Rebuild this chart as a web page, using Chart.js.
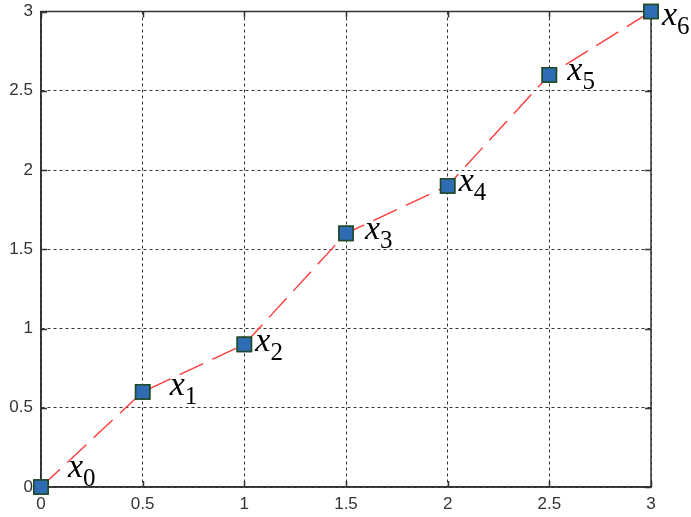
<!DOCTYPE html>
<html>
<head>
<meta charset="utf-8">
<script src="https://cdn.jsdelivr.net/npm/chart.js@4.4.1/dist/chart.umd.min.js"></script>
<style>
    html, body { margin: 0; padding: 0; background: #fff; }
    #wrap { width: 691px; height: 517px; }
</style>
</head>
<body>
<div id="wrap"><canvas id="chart" width="691" height="517"></canvas></div>
<script>
// values
const xValues = [0, 0.5, 1, 1.5, 2, 2.5, 3];
const yValues = [0, 0.6, 0.9, 1.6, 1.9, 2.6, 3];
const pointSubs = ['0', '1', '2', '3', '4', '5', '6'];
const tickValues = [0, 0.5, 1, 1.5, 2, 2.5, 3];
const tickLabels = ['0', '0.5', '1', '1.5', '2', '2.5', '3'];

// where each x_i label sits relative to its marker (px)
const labelOffsets = [[27, -10], [27, 3], [11, 7], [19, 6], [11, 5], [18, 5], [11, 13]];
const serif = "'Liberation Serif', 'Times New Roman', Times, serif";

let fmtTick = function(v) {
    let i = tickValues.indexOf(v);
    return i >= 0 ? tickLabels[i] : '';
};

let frame = {
    id: 'frame',
    afterDatasetsDraw(chart) {
        let ctx = chart.ctx, a = chart.chartArea;
        let xs = chart.scales.x, ys = chart.scales.y;
        ctx.save();
        ctx.strokeStyle = '#333';
        ctx.lineWidth = 1.5;
        ctx.setLineDash([]);
        ctx.beginPath();
        // inward tick marks on all four sides
        tickValues.forEach((v) => {
            let px = Math.round(xs.getPixelForValue(v)) + 0.5;
            ctx.moveTo(px, a.bottom); ctx.lineTo(px, a.bottom - 6);
            ctx.moveTo(px, a.top); ctx.lineTo(px, a.top + 6);
            let py = Math.round(ys.getPixelForValue(v)) + 0.5;
            ctx.moveTo(a.left, py); ctx.lineTo(a.left + 6, py);
            ctx.moveTo(a.right, py); ctx.lineTo(a.right - 6, py);
        });
        ctx.stroke();
        ctx.strokeRect(a.left, a.top, a.right - a.left, a.bottom - a.top);
        ctx.restore();
    },
    afterDraw(chart) {
        // redraw markers above the frame so edge markers are not crossed
        let meta = chart.getDatasetMeta(0);
        let ctx = chart.ctx;
        ctx.save();
        meta.data.forEach((pt) => pt.draw(ctx, undefined));
        ctx.restore();

        // x_i labels
        let xs = chart.scales.x, ys = chart.scales.y;
        ctx.save();
        ctx.fillStyle = '#000';
        ctx.textBaseline = 'alphabetic';
        ctx.textAlign = 'left';
        xValues.forEach((xv, i) => {
            let px = xs.getPixelForValue(xv) + labelOffsets[i][0];
            let py = ys.getPixelForValue(yValues[i]) + labelOffsets[i][1];
            ctx.font = 'italic 34px ' + serif;
            ctx.fillText('x', px, py);
            let w = ctx.measureText('x').width;
            ctx.font = '25px ' + serif;
            ctx.fillText(pointSubs[i], px + w, py + 9);
        });
        ctx.restore();
    }
};

let ctx = document.getElementById('chart').getContext('2d');
let chart = new Chart(ctx, {
    type: 'line',
    data: {
        datasets: [{
            data: xValues.map((x, i) => ({ x: x, y: yValues[i] })),
            borderColor: '#ff3a3a',
            borderWidth: 1.4,
            borderDash: [26, 10],
            fill: false,
            tension: 0,
            pointStyle: 'rect',
            pointRadius: 10,
            pointHoverRadius: 10,
            pointBackgroundColor: '#2f6cb3',
            pointBorderColor: '#1e4a28',
            pointBorderWidth: 1.5,
            clip: false,
        }]
    },
    plugins: [frame],
    options: {
        responsive: false,
        animation: false,
        events: [],
        layout: {
            padding: { top: 7, right: 40, left: 0, bottom: 0 }
        },
        plugins: {
            legend: { display: false },
            tooltip: { enabled: false },
        },
        scales: {
            x: {
                type: 'linear',
                min: 0,
                max: 3,
                afterFit: (s) => { s.height = 30; s.paddingLeft = 0; s.paddingRight = 0; },
                afterBuildTicks: (s) => { s.ticks = tickValues.map((v) => ({ value: v })); },
                ticks: {
                    padding: 7,
                    maxRotation: 0,
                    color: '#333',
                    font: { family: '"Liberation Sans", Arial, sans-serif', size: 17 },
                    callback: fmtTick,
                },
                grid: {
                    color: '#333',
                    lineWidth: 1,
                    drawTicks: false,
                },
                border: { display: true, color: '#333', width: 1.5, dash: [3, 3] },
            },
            y: {
                type: 'linear',
                min: 0,
                max: 3,
                afterFit: (s) => { s.width = 41; s.paddingTop = 0; s.paddingBottom = 0; },
                afterBuildTicks: (s) => { s.ticks = tickValues.map((v) => ({ value: v })); },
                ticks: {
                    padding: 8,
                    color: '#333',
                    font: { family: '"Liberation Sans", Arial, sans-serif', size: 17 },
                    callback: fmtTick,
                },
                grid: {
                    color: '#333',
                    lineWidth: 1,
                    drawTicks: false,
                },
                border: { display: true, color: '#333', width: 1.5, dash: [3, 3] },
            }
        }
    }
});
</script>
</body>
</html>
